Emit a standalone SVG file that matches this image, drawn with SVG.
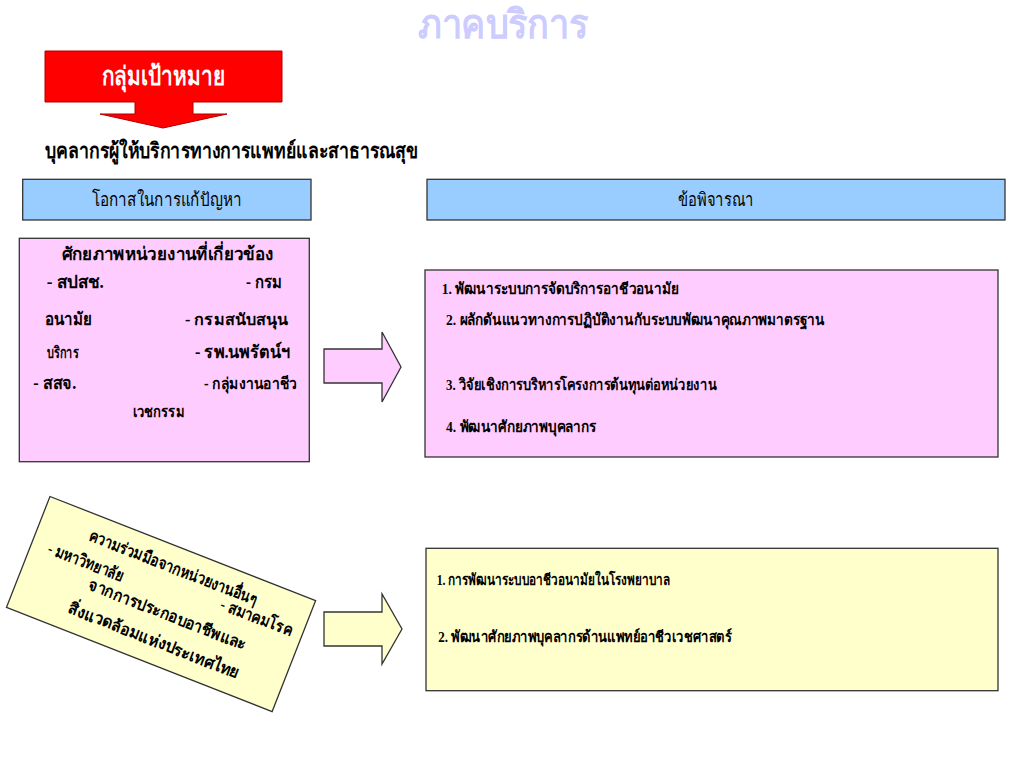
<svg xmlns="http://www.w3.org/2000/svg" width="1024" height="768" viewBox="0 0 1024 768">
<style>
.t{font-family:'Liberation Serif','DejaVu Serif',serif;font-weight:bold;fill:#000}
.n{font-weight:normal}
.box{stroke:#333;stroke-width:1.3}
.pink{fill:#ffccff}
.blue{fill:#99ccff}
.yel{fill:#ffffcc}
</style>
<rect width="1024" height="768" fill="#fff"/>
<g id="title">
<text class="t" x="503" y="38" font-size="40" style="fill:#ccccff" text-anchor="middle" textLength="170" lengthAdjust="spacingAndGlyphs">ภาคบริการ</text>
</g>
<g id="target">
<path d="M45,51 H282 V102 H193 V114 H227 L163,128 L100,114 H135 V102 H45 Z" fill="#ff0000" stroke="#b00000" stroke-width="1"/>
<text class="t" x="163" y="85" font-size="26" style="fill:#fff" text-anchor="middle" textLength="123" lengthAdjust="spacingAndGlyphs">กลุ่มเป้าหมาย</text>
</g>
<g id="subtitle">
<text class="t" x="45" y="158" font-size="21" textLength="373" lengthAdjust="spacingAndGlyphs">บุคลากรผู้ให้บริการทางการแพทย์และสาธารณสุข</text>
</g>
<g id="header-left">
<rect class="box blue" x="22.7" y="179.3" width="288.3" height="40.7"/>
<text class="t n" x="166.8" y="206" font-size="19" text-anchor="middle" textLength="150" lengthAdjust="spacingAndGlyphs">โอกาสในการแก้ปัญหา</text>
</g>
<g id="header-right">
<rect class="box blue" x="427" y="179.3" width="578" height="40.7"/>
<text class="t n" x="716" y="206" font-size="19" text-anchor="middle" textLength="76" lengthAdjust="spacingAndGlyphs">ข้อพิจารณา</text>
</g>
<g id="potential">
<rect class="box pink" x="19.3" y="238.3" width="290" height="223.4"/>
<text class="t" x="167.5" y="260" font-size="18" text-anchor="middle" textLength="212" lengthAdjust="spacingAndGlyphs">ศักยภาพหน่วยงานที่เกี่ยวข้อง</text>
<text class="t" x="46.7" y="288" font-size="18" textLength="57" lengthAdjust="spacingAndGlyphs">- สปสช.</text>
<text class="t" x="282" y="288" font-size="18" text-anchor="end" textLength="36" lengthAdjust="spacingAndGlyphs">- กรม</text>
<text class="t" x="45" y="325" font-size="18" textLength="47" lengthAdjust="spacingAndGlyphs">อนามัย</text>
<text class="t" x="185" y="325" font-size="16" textLength="103" lengthAdjust="spacingAndGlyphs">- กรมสนับสนุน</text>
<text class="t" x="46.7" y="357.5" font-size="16" textLength="32" lengthAdjust="spacingAndGlyphs">บริการ</text>
<text class="t" x="195" y="357.5" font-size="18" textLength="95" lengthAdjust="spacingAndGlyphs">- รพ.นพรัตน์ฯ</text>
<text class="t" x="33.3" y="389" font-size="18" textLength="43" lengthAdjust="spacingAndGlyphs">- สสจ.</text>
<text class="t" x="204" y="389" font-size="16" textLength="93" lengthAdjust="spacingAndGlyphs">- กลุ่มงานอาชีว</text>
<text class="t" x="132.7" y="416.7" font-size="16" textLength="52" lengthAdjust="spacingAndGlyphs">เวชกรรม</text>
</g>
<g id="consider-1">
<rect class="box pink" x="425" y="270" width="573" height="187"/>
<text class="t" x="441.7" y="294" font-size="15.5" textLength="236.7" lengthAdjust="spacingAndGlyphs">1. พัฒนาระบบการจัดบริการอาชีวอนามัย</text>
<text class="t" x="446" y="325" font-size="15.5" textLength="379" lengthAdjust="spacingAndGlyphs">2. ผลักดันแนวทางการปฏิบัติงานกับระบบพัฒนาคุณภาพมาตรฐาน</text>
<text class="t" x="446" y="390" font-size="15.5" textLength="270.7" lengthAdjust="spacingAndGlyphs">3. วิจัยเชิงการบริหารโครงการต้นทุนต่อหน่วยงาน</text>
<text class="t" x="446" y="431.7" font-size="15.5" textLength="150" lengthAdjust="spacingAndGlyphs">4. พัฒนาศักยภาพบุคลากร</text>
</g>
<g id="cooperation">
<g transform="translate(161,604) rotate(21.4)">
<rect class="box yel" x="-142.6" y="-59.6" width="285.3" height="119.2"/>
<text class="t" x="-2" y="-33" font-size="16.5" text-anchor="middle" textLength="179" lengthAdjust="spacingAndGlyphs">ความร่วมมือจากหน่วยงานอื่นๆ</text>
<text class="t" x="-125" y="-6" font-size="16.5" textLength="80" lengthAdjust="spacingAndGlyphs">- มหาวิทยาลัย</text>
<text class="t" x="56" y="-17" font-size="16.5" textLength="76" lengthAdjust="spacingAndGlyphs">- สมาคมโรค</text>
<text class="t" x="-74" y="13" font-size="16.5" textLength="168" lengthAdjust="spacingAndGlyphs">จากการประกอบอาชีพและ</text>
<text class="t" x="-84" y="42" font-size="16.5" textLength="182" lengthAdjust="spacingAndGlyphs">สิ่งแวดล้อมแห่งประเทศไทย</text>
</g>
</g>
<g id="consider-2">
<rect class="box yel" x="426" y="548.3" width="572" height="142.4"/>
<text class="t" x="436.7" y="585" font-size="15.5" textLength="233.3" lengthAdjust="spacingAndGlyphs">1. การพัฒนาระบบอาชีวอนามัยในโรงพยาบาล</text>
<text class="t" x="438.3" y="641.7" font-size="15.5" textLength="293.3" lengthAdjust="spacingAndGlyphs">2. พัฒนาศักยภาพบุคลากรด้านแพทย์อาชีวเวชศาสตร์</text>
</g>
<g id="connectors">
<path class="box pink" d="M324,349 H382 V332 L401,367 L382,402 V383 H324 Z"/>
<path class="box yel" d="M324,612 H382 V594 L402,629 L382,664 V646 H324 Z"/>
</g>
</svg>
